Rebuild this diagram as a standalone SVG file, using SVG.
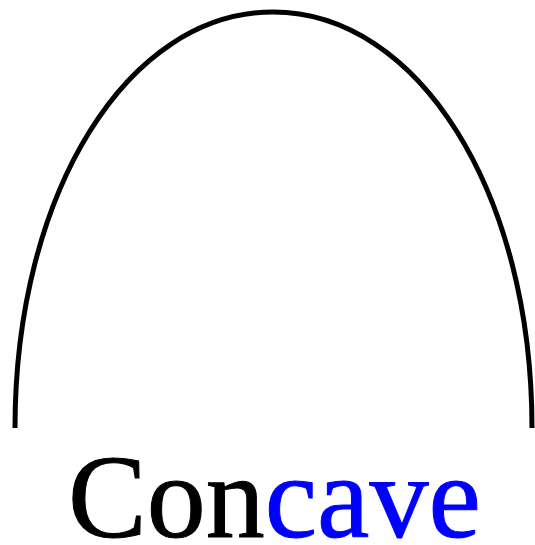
<svg xmlns="http://www.w3.org/2000/svg" width="535" height="545" viewBox="0 0 535 545">
<style>
.arch{fill:none;stroke:#000;stroke-width:5}
.lbl{font-family:"Liberation Serif","DejaVu Serif",serif;font-size:118px;stroke-width:1}
</style>
<rect width="535" height="545" fill="#fff"/>
<g id="arch"><path class="arch" d="M15,428 C15,192 128,12 273,12 C418,12 532,192 532,428"/></g>
<g id="label"><text class="lbl" x="68" y="537"><tspan fill="#000" stroke="#000">Con</tspan><tspan fill="#0000ff" stroke="#0000ff">cave</tspan></text></g>
</svg>
